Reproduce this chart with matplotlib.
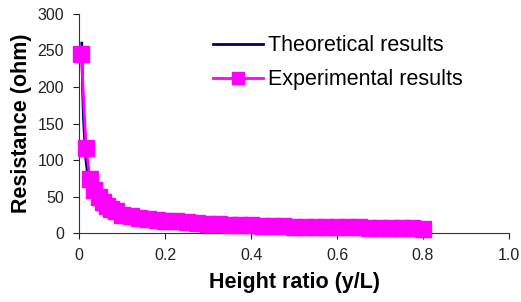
import matplotlib
matplotlib.use("Agg")
import matplotlib.pyplot as plt

plt.rcParams['font.family'] = ['Liberation Sans', 'DejaVu Sans']

# theoretical curve
theo_x = [0.006, 0.008, 0.01, 0.015, 0.02, 0.03, 0.05, 0.1, 0.2, 0.4, 0.8]
theo_y = [260, 195, 156, 104, 78, 52, 31, 16, 8, 4, 2]

# experimental points
exp_x = [0.005, 0.016, 0.025, 0.035, 0.045, 0.055, 0.065, 0.075, 0.085, 0.1,
         0.12, 0.14, 0.16, 0.18, 0.2, 0.225, 0.25, 0.275, 0.3, 0.325, 0.35,
         0.375, 0.4, 0.425, 0.45, 0.475, 0.5, 0.525, 0.55, 0.575, 0.6, 0.625,
         0.65, 0.675, 0.7, 0.725, 0.75, 0.775, 0.8]
exp_y = [245, 117, 74, 59, 49, 42, 37, 33, 30, 25,
         23, 21, 19, 18, 17, 16, 15, 14, 13, 12, 11.5,
         11, 10.5, 10, 9.5, 9.5, 9, 9, 8.5, 8.5, 8.5, 8,
         8, 7.5, 7, 7, 6.5, 6.5, 6]

xticks = [0, 0.2, 0.4, 0.6, 0.8, 1.0]
xticklabels = ['0', '0.2', '0.4', '0.6', '0.8', '1.0']
yticks = [0, 50, 100, 150, 200, 250, 300]

fig = plt.figure(figsize=(5.21, 3.02), dpi=100)
ax = fig.add_axes([0.152, 0.228, 0.825, 0.726])

ax.plot(theo_x, theo_y, color='#000070', lw=2, label='Theoretical results', zorder=2)
ax.plot(exp_x, exp_y, color='#FF00FF', lw=2, marker='s', markersize=11.5,
        label='Experimental results', zorder=3, clip_on=False)

ax.set_xlim(0, 1.0)
ax.set_ylim(0, 300)
ax.set_xticks(xticks)
ax.set_xticklabels(xticklabels)
ax.set_yticks(yticks)
ax.tick_params(labelsize=11.5, colors='#222222', length=4, width=0.8, pad=7)

for s in ['top', 'right']:
    ax.spines[s].set_visible(False)
for s in ['left', 'bottom']:
    ax.spines[s].set_color('#333333')

ax.set_xlabel('Height ratio (y/L)', fontsize=15.5, fontweight='bold', labelpad=6)
ax.set_ylabel('Resistance (ohm)', fontsize=15.5, fontweight='bold', labelpad=4)

ax.legend(loc='upper left', bbox_to_anchor=(0.267, 0.99), frameon=False,
          fontsize=15.5, handlelength=2.3, handletextpad=0.25, labelspacing=0.6,
          markerscale=0.75)

fig.savefig('out.png', dpi=100)
